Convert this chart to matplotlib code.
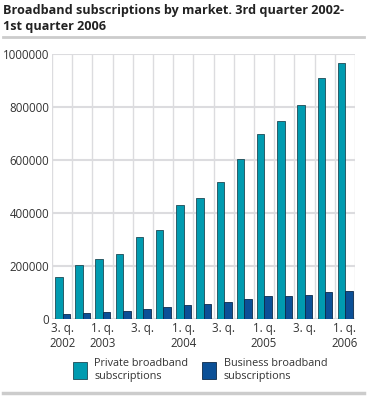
import matplotlib.pyplot as plt
import numpy as np

# quarters 3rd q 2002 .. 1st q 2006
quarters = ['3. q.\n2002', '', '1. q.\n2003', '', '3. q.', '', '1. q.\n2004', '',
            '3. q.', '', '1. q.\n2005', '', '3. q.', '', '1. q.\n2006']
private = [158000, 202000, 227000, 245000, 309000, 336000, 430000, 456000,
           518000, 605000, 697000, 747000, 807000, 909000, 966000]
business = [20000, 24000, 26500, 31500, 38000, 44000, 52000, 58000,
            64000, 76000, 86000, 86000, 90000, 101000, 107000]

PRIVATE_COLOR = '#009bb0'
BUSINESS_COLOR = '#0b5097'
GRID_COLOR = '#dcdcdf'
TEXT_COLOR = '#333333'

plt.rcParams['font.family'] = ['Open Sans', 'DejaVu Sans']

fig = plt.figure(figsize=(3.67, 3.98), dpi=100)
ax = fig.add_axes([0.1417, 0.1985, 0.8253, 0.6658])

x = np.arange(len(private))
w = 0.37
ax.bar(x - 0.165, private, width=w, color=PRIVATE_COLOR, edgecolor='#1d4a55',
       linewidth=0.6, label='Private broadband\nsubscriptions', zorder=3)
ax.bar(x + 0.205, business, width=w, color=BUSINESS_COLOR, edgecolor='#0d2a4a',
       linewidth=0.6, label='Business broadband\nsubscriptions', zorder=3)

ax.set_xlim(-0.5, len(private) - 0.5)
ax.set_ylim(0, 1000000)
ax.set_yticks(range(0, 1000001, 200000))
ax.set_yticklabels([str(v) for v in range(0, 1000001, 200000)],
                   fontsize=8.3, color=TEXT_COLOR)
ax.set_xticks(x)
ax.set_xticklabels(quarters, fontsize=8.3, color=TEXT_COLOR, linespacing=1.2)
ax.tick_params(axis='y', length=0, pad=2)
ax.tick_params(axis='x', length=0, pad=2)

# vertical grid at category boundaries
ax.set_xticks(np.arange(-0.5, len(private), 1.0), minor=True)
ax.tick_params(which='minor', length=0)
ax.grid(which='minor', axis='x', color=GRID_COLOR, linewidth=1.0, zorder=0)
ax.grid(which='major', axis='y', color=GRID_COLOR, linewidth=1.5, zorder=0)
for s in ax.spines.values():
    s.set_visible(False)

fig.text(0.008, 0.99, 'Broadband subscriptions by market. 3rd quarter 2002-\n1st quarter 2006',
         fontsize=9.1, fontweight='bold', color='#222222', va='top', ha='left',
         linespacing=1.35)
fig.add_artist(plt.Line2D([0.008, 0.992], [0.907, 0.907], color='#cccccc', linewidth=2))
fig.add_artist(plt.Line2D([0.008, 0.992], [0.013, 0.013], color='#cccccc', linewidth=2.5))

fig.legend(loc='center', bbox_to_anchor=(0.545, 0.07), ncol=2, frameon=False,
           fontsize=7.8, handlelength=1.3, handleheight=2.1, handletextpad=0.7,
           columnspacing=1.3, labelcolor=TEXT_COLOR)

fig.savefig('out.png', dpi=100)
